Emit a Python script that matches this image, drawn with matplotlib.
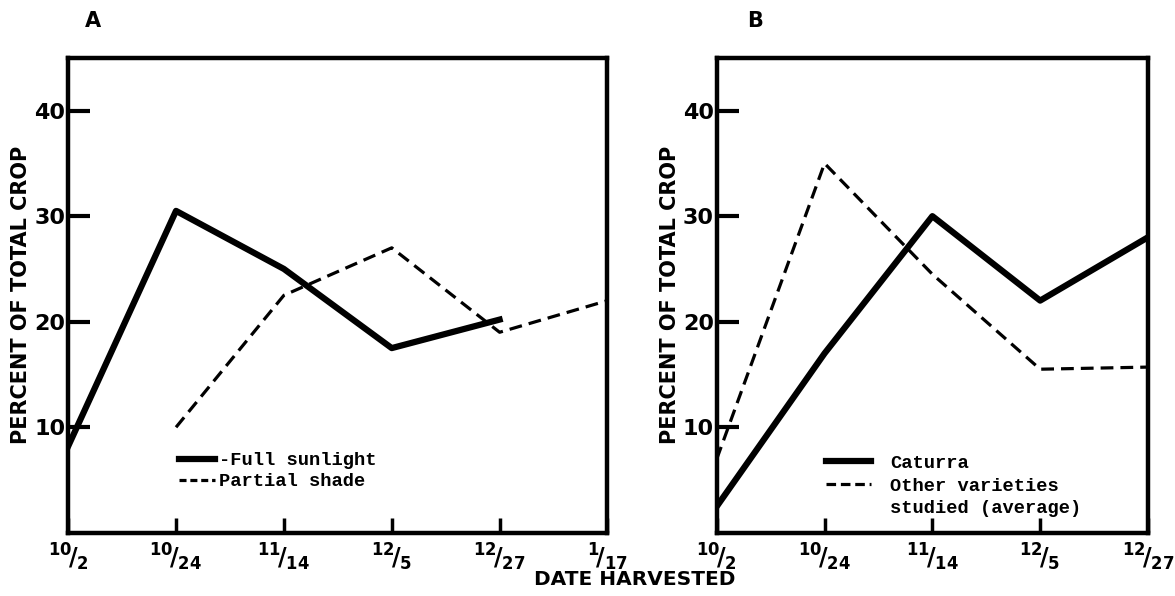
import matplotlib.pyplot as plt
from matplotlib.lines import Line2D

plt.rcParams['font.family'] = ['DejaVu Sans']
plt.rcParams['mathtext.default'] = 'bf'

# Panel A: harvest dates and percent of total crop
dates_a = ["10/2", "10/24", "11/14", "12/5", "12/27", "1/17"]
full_sun = [8.2, 30.5, 25.0, 17.5, 20.2]          # 10/2 .. 12/27
partial_shade = [10.0, 22.5, 27.0, 19.0, 22.0]    # 10/24 .. 1/17

# Panel B
dates_b = ["10/2", "10/24", "11/14", "12/5", "12/27"]
caturra = [2.5, 17.0, 30.0, 22.0, 28.0]
other_varieties = [7.0, 35.0, 24.5, 15.5, 15.7]

yticks = [10, 20, 30, 40]


def frac(s):
    n, d = s.split("/")
    return r"$^{%s}\!/_{%s}$" % (n, d)


def style_axes(ax, labels):
    for sp in ax.spines.values():
        sp.set_linewidth(3.2)
    ax.set_ylim(0, 45)
    ax.set_xlim(0, len(labels) - 1)
    ax.set_yticks(yticks)
    ax.set_yticklabels([str(t) for t in yticks], fontsize=16, fontweight='bold')
    ax.set_xticks(range(len(labels)))
    ax.set_xticklabels([frac(s) for s in labels], fontsize=17)
    ax.tick_params(axis='y', direction='in', length=16, width=3, pad=2)
    ax.tick_params(axis='x', direction='in', length=11, width=2.5, pad=6)
    ax.set_ylabel("PERCENT OF TOTAL CROP", fontsize=15, fontweight='bold', labelpad=2)


fig = plt.figure(figsize=(11.75, 5.96), dpi=100)
ax1 = fig.add_axes([0.058, 0.106, 0.459, 0.797])
ax2 = fig.add_axes([0.610, 0.106, 0.367, 0.797])

xa = list(range(len(dates_a)))
ax1.plot(xa[:5], full_sun, color='black', lw=4.5)
ax1.plot(xa[1:], partial_shade, color='black', lw=2.3, ls=(0, (4, 2.2)))
style_axes(ax1, dates_a)

xb = list(range(len(dates_b)))
ax2.plot(xb, caturra, color='black', lw=4.5)
ax2.plot(xb, other_varieties, color='black', lw=2.3, ls=(0, (4, 2.2)))
style_axes(ax2, dates_b)

mono = {'family': 'Liberation Mono', 'weight': 'bold', 'size': 13.5}

h_a = [Line2D([], [], color='black', lw=4.5),
       Line2D([], [], color='black', lw=2.3, ls=(0, (2.2, 1.2)))]
ax1.legend(h_a, ["-Full sunlight", "Partial shade"], loc='upper left',
           bbox_to_anchor=(0.175, 0.205), frameon=False, prop=mono,
           handlelength=1.9, handletextpad=0.2, labelspacing=0.2)

h_b = [Line2D([], [], color='black', lw=4.5),
       Line2D([], [], color='black', lw=2.3, ls=(0, (3, 1.5))),
       Line2D([], [], ls='none')]
ax2.legend(h_b, ["Caturra", "Other varieties", "studied (average)"],
           loc='upper left', bbox_to_anchor=(0.215, 0.2), frameon=False,
           prop=mono, handlelength=2.4, handletextpad=1.0, labelspacing=0.3)

fig.text(0.072, 0.965, "A", fontsize=15, fontweight='bold', va='center')
fig.text(0.636, 0.965, "B", fontsize=15, fontweight='bold', va='center')
fig.text(0.54, 0.027, "DATE HARVESTED", fontsize=14.5, fontweight='bold',
         ha='center', va='center')

fig.savefig("out.png", dpi=100)
